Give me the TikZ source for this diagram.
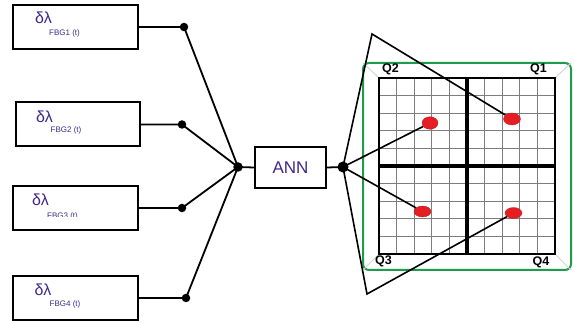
\documentclass[tikz,border=0pt]{standalone}
\usepackage{fontspec}
\setmainfont{Liberation Sans}
\usetikzlibrary{shapes.geometric}
\definecolor{txtpurple}{RGB}{60,40,140}
\definecolor{framegreen}{RGB}{30,155,75}
\definecolor{dotred}{RGB}{228,30,35}
\definecolor{gridgray}{RGB}{125,125,125}
\definecolor{cornergray}{RGB}{205,220,205}
\begin{document}
\begin{tikzpicture}[x=1pt,y=-1pt,
  fbgbox/.style={draw,line width=2pt,minimum width=125pt,minimum height=44pt,inner sep=0pt},
  junc/.style={circle,fill=black,inner sep=0pt,minimum size=8.5pt},
  wire/.style={line width=1.8pt},
  rwire/.style={line width=1.6pt},
  greek/.style={text=txtpurple,inner sep=0pt,font=\fontsize{16}{16}\selectfont},
  sub/.style={text=txtpurple,inner sep=0pt,font=\fontsize{8}{8}\selectfont},
  qlab/.style={inner sep=0pt,font=\bfseries\fontsize{12.5}{12.5}\selectfont},
  redspot/.style={ellipse,fill=dotred,draw=dotred!85!black,line width=0.3pt,inner sep=0pt},
  gline/.style={gridgray,line width=0.8pt}]
\useasboundingbox (0,0) rectangle (574,323);

% FBG boxes
\node[fbgbox] (b1) at (75.5,27) {};
\node[fbgbox,minimum width=124pt] (b2) at (78,124.5) {};
\node[fbgbox] (b3) at (75.5,208) {};
\node[fbgbox] (b4) at (75.5,298) {};

\node[greek] (g1) at (43.5,17.5) {δλ};
\node[sub] (s1) at (64.5,33.5) {FBG1 (t)};
\node[greek] (g2) at (44.5,117) {δλ};
\node[sub] (s2) at (66,130) {FBG2 (t)};
\node[greek] (g3) at (40.5,200) {δλ};
\begin{scope}
\clip (0,0) rectangle (574,216.5);
\node[sub] (s3) at (62.5,216) {FBG3 (t)};
\end{scope}
\node[greek] (g4) at (43,290) {δλ};
\node[sub] (s4) at (65,304.5) {FBG4 (t)};

% junction dots
\node[junc] (d1) at (184,27) {};
\node[junc] (d2) at (182,124.5) {};
\node[junc] (d3) at (182,208) {};
\node[junc] (d4) at (186,298) {};
\node[junc,minimum size=9.5pt] (j) at (238,167) {};

% ANN
\node[draw,line width=2pt,minimum width=71pt,minimum height=41pt,inner sep=0pt,
      text=txtpurple,font=\fontsize{17}{17}\selectfont] (ann) at (290.5,167.5) {ANN};
\node[junc,minimum size=11pt] (r) at (343,167) {};

\draw[wire] (b1.east) -- (d1.center) -- (j.center);
\draw[wire] (b2.east) -- (d2.center) -- (j.center);
\draw[wire] (b3.east) -- (d3.center) -- (j.center);
\draw[wire] (b4.east) -- (d4.center) -- (j.center);
\draw[wire] (j.center) -- (ann.west);
\draw[wire] (ann.east) -- (r.center);

% green frame and grid
\draw[framegreen,line width=2pt,rounded corners=6pt] (363,63) rectangle (571,270);
\draw[cornergray,line width=1pt] (363,63) -- (379,78);
\draw[cornergray,line width=1pt] (571,63) -- (555,78);
\draw[cornergray,line width=1pt] (363,270) -- (379,254);
\draw[cornergray,line width=1pt] (571,270) -- (555,254);
\foreach \i in {1,...,9} {
  \draw[gline] ({379+17.6*\i},78) -- ({379+17.6*\i},254);
  \draw[gline] (379,{78+17.6*\i}) -- (555,{78+17.6*\i});
}
\draw[line width=2.4pt] (379,78) rectangle (555,254);
\draw[line width=3.2pt] (467,78) -- (467,254);
\draw[line width=3.2pt] (379,166) -- (555,166);

\node[qlab] (q2l) at (390.5,69.5) {Q2};
\node[qlab] (q1l) at (538.5,69.5) {Q1};
\node[qlab] (q3l) at (383.5,261.5) {Q3};
\node[qlab] (q4l) at (541,262) {Q4};

% red spots
\node[redspot,minimum width=17pt,minimum height=12pt] (q1) at (512,119) {};
\node[redspot,minimum width=16pt,minimum height=12.5pt] (q2) at (430,123) {};
\node[redspot,minimum width=17pt,minimum height=11pt] (q3) at (422.5,211.5) {};
\node[redspot,minimum width=17pt,minimum height=11pt] (q4) at (513.5,213) {};

% fan lines
\coordinate (tv) at (372,34);
\coordinate (bv) at (367,294);
\draw[rwire] (r.center) -- (tv) -- (q1);
\draw[rwire] (r.center) -- (bv) -- (q4);
\draw[rwire] (r.center) -- (q2);
\draw[rwire] (r.center) -- (q3);
\end{tikzpicture}
\end{document}
